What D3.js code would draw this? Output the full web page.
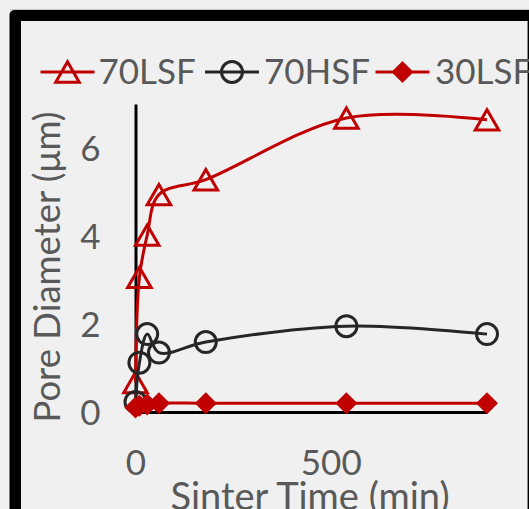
<!DOCTYPE html>
<html>
<head>
<meta charset="utf-8">
<script src="https://cdn.jsdelivr.net/npm/d3@7"></script>
<style>
  body { margin: 0; background: #f0f0f0; }
  svg { display: block; }
</style>
</head>
<body>
<div id="chart"></div>
<script>
// Chart data
var times = [0, 10, 30, 60, 180, 540, 900];
var lsf70 = [0.67, 3.06, 4.02, 4.94, 5.28, 6.68, 6.64];
var hsf70 = [0.23, 1.12, 1.77, 1.35, 1.59, 1.95, 1.77];
var lsf30 = [0.1, 0.14, 0.17, 0.2, 0.2, 0.2, 0.2];
var seriesNames = ["70LSF", "70HSF", "30LSF"];
var xTicks = [0, 500];
var yTicks = [0, 2, 4, 6];

var svgWidth = 529;
var svgHeight = 509;
var red = "#c00000";
var dark = "#262626";
var textColor = "#595959";
var font = "Lato, 'Open Sans', sans-serif";
var fontSize = 35;

var svg = d3.select("#chart")
  .append("svg")
  .attr("width", svgWidth)
  .attr("height", svgHeight);

// background + thick black frame (cropped on the right/bottom)
svg.append("rect").attr("width", svgWidth).attr("height", svgHeight).attr("fill", "#f0f0f0");
svg.append("line")
  .attr("x1", 10).attr("x2", svgWidth).attr("y1", 9.5).attr("y2", 9.5)
  .attr("stroke", "#c8c8c8").attr("stroke-width", 1);
svg.append("rect")
  .attr("x", 9.5).attr("y", 10)
  .attr("width", 700).attr("height", 700)
  .attr("rx", 5)
  .attr("fill", "#000");
svg.append("rect")
  .attr("x", 21).attr("y", 21)
  .attr("width", 506).attr("height", 600)
  .attr("fill", "#f0f0f0");
svg.append("line")
  .attr("x1", 527.5).attr("x2", 527.5).attr("y1", 21).attr("y2", svgHeight)
  .attr("stroke", "#8c8c8c").attr("stroke-width", 1);

// scales
var x = d3.scaleLinear().domain([0, 900]).range([135.5, 487]);
var y = d3.scaleLinear().domain([0, 7]).range([412, 104]);

// axes
var xAxis = svg.append("g")
  .attr("transform", "translate(0," + y(0) + ")")
  .call(d3.axisBottom(x).tickValues(xTicks).tickSize(0).tickPadding(38).tickFormat(d3.format("d")));
var yAxis = svg.append("g")
  .attr("transform", "translate(" + x(0) + ",0)")
  .call(d3.axisLeft(y).tickValues(yTicks).tickSize(0).tickPadding(35).tickFormat(d3.format("d")));

[xAxis, yAxis].forEach(function(ax) {
  ax.select(".domain").attr("stroke", "#000").attr("stroke-width", 3);
  ax.selectAll("text")
    .attr("fill", textColor)
    .attr("font-family", font)
    .attr("font-size", fontSize + "px");
});
xAxis.selectAll("text").attr("dy", "0.71em");
yAxis.selectAll("text").attr("dy", "0.36em");

// axis titles
svg.append("text")
  .attr("x", 310).attr("y", 510)
  .attr("text-anchor", "middle")
  .attr("fill", textColor)
  .attr("font-family", font)
  .attr("font-size", "38px")
  .text("Sinter Time (min)");

svg.append("text")
  .attr("transform", "translate(60, 267) rotate(-90)")
  .attr("text-anchor", "middle")
  .attr("fill", textColor)
  .attr("font-family", font)
  .attr("font-size", "36.5px")
  .text("Pore Diameter (μm)");

// series, drawn in Excel order so later ones sit on top
var smooth = d3.line()
  .x(function(d, i) { return x(times[i]); })
  .y(function(d) { return y(d); })
  .curve(d3.curveCatmullRom.alpha(0.5));

var triangle = d3.symbol().type(d3.symbolTriangle).size(240);
var diamond = "M0,-11L11,0L0,11L-11,0Z";

function drawMarker(g, type, color, cx, cy) {
  if (type == "tri") {
    g.append("path")
      .attr("transform", "translate(" + cx + "," + (cy + 3.4) + ")")
      .attr("d", triangle)
      .attr("fill", "none").attr("stroke", color).attr("stroke-width", 3);
  } else if (type == "circ") {
    g.append("circle")
      .attr("cx", cx).attr("cy", cy).attr("r", 10.5)
      .attr("fill", "none").attr("stroke", color).attr("stroke-width", 3);
  } else {
    g.append("path")
      .attr("transform", "translate(" + cx + "," + cy + ")")
      .attr("d", diamond)
      .attr("fill", color);
  }
}

var series = [
  { values: lsf70, color: red, mark: "tri" },
  { values: hsf70, color: dark, mark: "circ" },
  { values: lsf30, color: red, mark: "dia" }
];

series.forEach(function(s) {
  var g = svg.append("g");
  g.append("path").attr("d", smooth(s.values))
    .attr("fill", "none").attr("stroke", s.color).attr("stroke-width", 3);
  s.values.forEach(function(v, i) {
    drawMarker(g, s.mark, s.color, x(times[i]), y(v));
  });
});

// legend
var legendY = 72;
var legendX = [40.5, 205, 375.5];
var legendTextX = [98.5, 264, 435];

var legend = svg.append("g");
series.forEach(function(s, k) {
  var x0 = legendX[k];
  legend.append("line")
    .attr("x1", x0).attr("x2", x0 + 54)
    .attr("y1", legendY).attr("y2", legendY)
    .attr("stroke", s.color).attr("stroke-width", 3);
  drawMarker(legend, s.mark, s.color, x0 + 27, legendY);
  legend.append("text")
    .attr("x", legendTextX[k]).attr("y", 84)
    .attr("fill", textColor)
    .attr("font-family", font)
    .attr("font-size", fontSize + "px")
    .text(seriesNames[k]);
});
</script>
</body>
</html>
